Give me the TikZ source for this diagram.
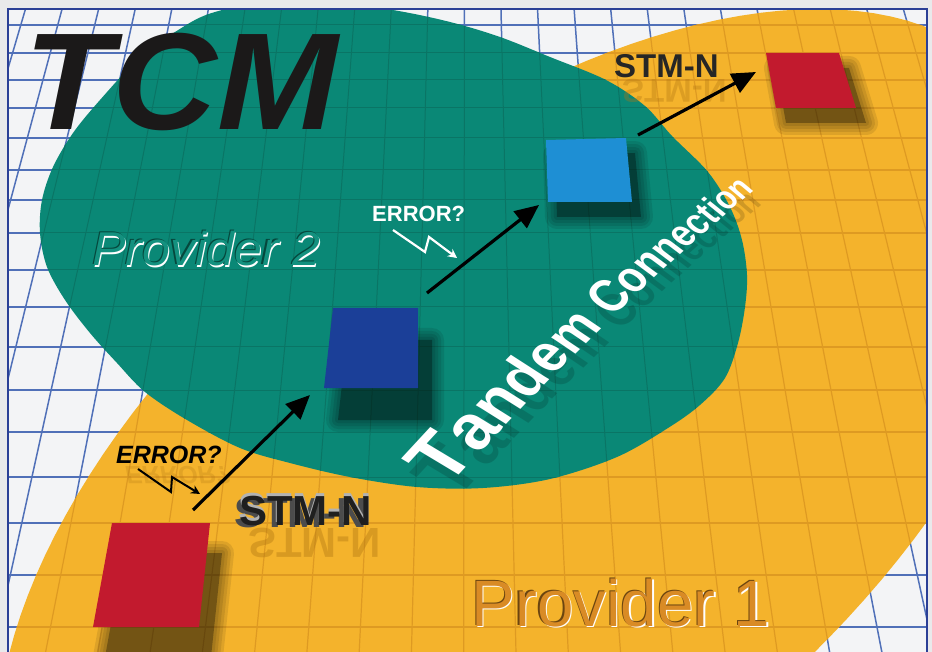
\documentclass[tikz,border=0pt]{standalone}
\usepackage{fontspec}
\usepackage{graphicx}
\setmainfont{Liberation Sans}
\usetikzlibrary{arrows.meta}
\definecolor{paper}{HTML}{E9E9EB}
\definecolor{framec}{HTML}{2B3F96}
\definecolor{gridw}{HTML}{F3F4F6}
\definecolor{gridblue}{HTML}{5070B8}
\definecolor{yel}{HTML}{F4B32C}
\definecolor{yelline}{HTML}{DE9A22}
\definecolor{grn}{HTML}{0A8876}
\definecolor{grnline}{HTML}{0A7565}
\definecolor{redsq}{HTML}{C21A2E}
\definecolor{dbluesq}{HTML}{1B3F98}
\definecolor{lbluesq}{HTML}{1E8FD4}
\definecolor{tcmblack}{HTML}{1B1919}
\definecolor{provtwo}{HTML}{13917F}
\definecolor{provtwodark}{HTML}{05473C}
\definecolor{provone}{HTML}{D98B25}
\definecolor{provonedark}{HTML}{6B4510}
\definecolor{reflc}{HTML}{B07612}
\newcommand{\gridpaths}[1]{%
  \foreach \yy in {25,53,80,108,138,170,200,233,270,307,347,390,432,477,523,575,627}{\draw[#1] (0,\yy) -- (932,\yy);}%
  \foreach \n in {-14,...,12}{%
    \pgfmathsetmacro{\xa}{466+(35+36.6*\n)*0.99333}%
    \pgfmathsetmacro{\xb}{466+(35+36.6*\n)*1.428}%
    \draw[#1] (\xa,0) -- (\xb,652);}%
}
\newcommand{\yelpath}{plot[domain=0:360, samples=145, variable=\t] ({523+623*cos(\t)*0.7756+326*sin(\t)*0.6312}, {476.5-623*cos(\t)*0.6312+326*sin(\t)*0.7756}) -- cycle}
\newcommand{\grnpath}{plot[smooth cycle, tension=0.55] coordinates {(300,-4) (393,10) (450,22) (500,37) (550,57) (606,80) (645,106) (672,136) (708,172) (730,207) (742,240) (747,275) (745,307) (738,343) (725,378) (700,405) (668,428) (617,457) (550,479) (483,488) (417,487) (350,477) (290,463) (240,448) (187,420) (145,392) (117,363) (90,333) (65,300) (47,267) (40,233) (42,200) (53,167) (73,133) (100,100) (140,57) (175,32) (215,12)}}
\newcommand{\softshadow}[1]{%
  \foreach \w in {24,18,12,6}{%
    \begin{scope}[transparency group, opacity=0.09]
      \filldraw[black, line width=\w pt, line join=round] #1;
    \end{scope}}%
  \fill[black, opacity=0.3] #1;
}
% one letter of the perspective text: x, y, matrix a b c d, node options, letter
\newcommand{\tlet}[8]{%
  \begin{scope}[shift={(#1,#2)}, cm={#3,#4,#5,#6,(0,0)}]
    \node[tdm, #7] at (0,0) {#8};
  \end{scope}}
% the whole perspective text, shifted by (#1,#2), with node options #3, names prefixed #4
\newcommand{\tandemtext}[4]{%
  \tlet{446.9+#1}{488.4+#2}{4.957}{5.359}{-6.758}{4.060}{#3, name=#4t1}{T}
  \tlet{477.2+#1}{455.7+#2}{4.542}{4.830}{-6.098}{3.752}{#3, name=#4t2}{a}
  \tlet{502.5+#1}{428.8+#2}{4.204}{4.393}{-5.680}{3.577}{#3, name=#4t3}{n}
  \tlet{528.2+#1}{401.9+#2}{3.902}{4.003}{-5.280}{3.402}{#3, name=#4t4}{d}
  \tlet{552.1+#1}{377.4+#2}{3.655}{3.685}{-4.960}{3.271}{#3, name=#4t5}{e}
  \tlet{572.4+#1}{357.0+#2}{3.395}{3.351}{-4.565}{3.090}{#3, name=#4t6}{m}
  \tlet{611.6+#1}{318.4+#2}{3.080}{2.943}{-4.324}{3.050}{#3, name=#4c1}{C}
  \tlet{633.8+#1}{297.2+#2}{2.912}{2.728}{-4.019}{2.899}{#3, name=#4c2}{o}
  \tlet{651.6+#1}{280.5+#2}{2.775}{2.552}{-3.764}{2.785}{#3, name=#4c3}{n}
  \tlet{668.5+#1}{264.9+#2}{2.657}{2.400}{-3.547}{2.682}{#3, name=#4c4}{n}
  \tlet{684.8+#1}{250.2+#2}{2.550}{2.264}{-3.356}{2.584}{#3, name=#4c5}{e}
  \tlet{699.0+#1}{237.6+#2}{2.463}{2.151}{-3.192}{2.512}{#3, name=#4c6}{c}
  \tlet{712.6+#1}{225.7+#2}{2.394}{2.062}{-3.067}{2.448}{#3, name=#4c7}{t}
  \tlet{720.6+#1}{218.8+#2}{2.350}{2.006}{-2.987}{2.410}{#3, name=#4c8}{i}
  \tlet{727.1+#1}{213.3+#2}{2.287}{1.926}{-2.869}{2.356}{#3, name=#4c9}{o}
  \tlet{741.1+#1}{201.5+#2}{2.211}{1.829}{-2.731}{2.292}{#3, name=#4c10}{n}
}
\tikzset{
  bigarrow/.style={line width=3.2pt, draw=black, -{Triangle[length=24pt,width=21pt]}},
  bolt/.style={line width=2.2pt, line join=miter, -{Stealth[length=9pt,width=9pt]}},
  lbl/.style={inner sep=0pt, anchor=base west},
  tdm/.style={inner sep=0pt, anchor=base west, transform shape, font=\fontsize{10}{10}\selectfont\bfseries}
}
\begin{document}
\begin{tikzpicture}[x=1pt,y=-1pt]
\useasboundingbox (0,0) rectangle (932,652);
\fill[paper] (0,0) rectangle (932,652);
\begin{scope}
  \clip (8,9) rectangle (927,652);
  \fill[gridw] (0,0) rectangle (932,652);
  \gridpaths{gridblue, line width=1.5pt}
  % Provider 1 (yellow)
  \fill[yel] \yelpath;
  \begin{scope}
    \clip \yelpath;
    \gridpaths{yelline, line width=1.2pt}
  \end{scope}
  % Provider 2 (green)
  \fill[grn] \grnpath;
  \begin{scope}
    \clip \grnpath;
    \gridpaths{grnline, line width=1pt}
  \end{scope}
  % reflections
  \node[lbl, font=\fontsize{42}{42}\selectfont\bfseries, text=reflc, opacity=0.4] (stmrefa) at (248,528) {\scalebox{1}[-1]{STM-N}};
  \node[lbl, font=\fontsize{33}{33}\selectfont\bfseries, text=reflc, opacity=0.35] (stmrefb) at (622,80) {\scalebox{1}[-1]{STM-N}};
  \node[lbl, font=\fontsize{25}{25}\selectfont\bfseries\itshape, text=reflc, opacity=0.25] (errref) at (125,466) {\scalebox{1}[-1]{ERROR?}};
  % shadow of the Tandem Connection text
  \tandemtext{8}{14}{text=black, opacity=0.15}{sh}
  % square shadows
  \softshadow{(124,553) -- (222,553) -- (211,657) -- (105,657) -- cycle}
  \softshadow{(347,340) -- (432,340) -- (432,420) -- (338,420) -- cycle}
  \softshadow{(555,155) -- (635,153) -- (641,217) -- (557,217) -- cycle}
  \softshadow{(776,68) -- (849,68) -- (866,123) -- (786,123) -- cycle}
  % squares
  \fill[redsq] (112,523) -- (210,523) -- (199,627) -- (93,627) -- cycle;
  \fill[dbluesq] (333,308) -- (418,308) -- (418,388) -- (324,388) -- cycle;
  \fill[lbluesq] (546,140) -- (626,138) -- (632,202) -- (548,202) -- cycle;
  \fill[redsq] (766,53) -- (839,53) -- (856,108) -- (776,108) -- cycle;
  % arrows
  \coordinate (a1s) at (193,510);
  \coordinate (a1e) at (310,395);
  \coordinate (a2s) at (427,293);
  \coordinate (a2e) at (539,205);
  \coordinate (a3s) at (638,135);
  \coordinate (a3e) at (756,72);
  \draw[bigarrow] (a1s) -- (a1e);
  \draw[bigarrow] (a2s) -- (a2e);
  \draw[bigarrow] (a3s) -- (a3e);
  % error bolts
  \coordinate (b1a) at (138,469);
  \coordinate (b1b) at (171,492);
  \coordinate (b1c) at (172,477);
  \coordinate (b1d) at (200,494);
  \draw[bolt, black, line width=2pt] (b1a) -- (b1b) -- (b1c) -- (b1d);
  \coordinate (b2a) at (393,230);
  \coordinate (b2b) at (425,252);
  \coordinate (b2c) at (429,237);
  \coordinate (b2d) at (457,258);
  \draw[bolt, white] (b2a) -- (b2b) -- (b2c) -- (b2d);
  % texts
  \node[lbl, font=\fontsize{138}{138}\selectfont\bfseries\itshape, text=tcmblack] (tcm) at (24,130) {\scalebox{1.05}[1]{TCM}};
  \node[lbl, font=\fontsize{47.5}{47.5}\selectfont\itshape, text=white] at (93.2,267.2) {\scalebox{1.055}[1]{Provider 2}};
  \node[lbl, font=\fontsize{47.5}{47.5}\selectfont\itshape, text=provtwodark] at (90.8,264.8) {\scalebox{1.055}[1]{Provider 2}};
  \node[lbl, font=\fontsize{47.5}{47.5}\selectfont\itshape, text=provtwo] (prov2) at (92,266) {\scalebox{1.055}[1]{Provider 2}};
  \node[lbl, font=\fontsize{65.6}{65.6}\selectfont, text=white] at (472.5,627.2) {Provider 1};
  \node[lbl, font=\fontsize{65.6}{65.6}\selectfont, text=provonedark] at (470,625.5) {Provider 1};
  \node[lbl, font=\fontsize{65.6}{65.6}\selectfont, text=provone] (prov1) at (471.2,626) {Provider 1};
  \node[lbl, font=\fontsize{42}{42}\selectfont\bfseries, text=black!70] (stmaghost) at (234,527) {STM-N};
  \node[lbl, font=\fontsize{42}{42}\selectfont\bfseries, text=black!30] (stmahigh) at (238.5,522.5) {STM-N};
  \node[lbl, font=\fontsize{42}{42}\selectfont\bfseries, text=black!88] (stma) at (239,525) {STM-N};
  \node[lbl, font=\fontsize{33}{33}\selectfont\bfseries, text=black!85] (stmb) at (614,78) {STM-N};
  \node[lbl, font=\fontsize{25}{25}\selectfont\bfseries\itshape, text=black] (erra) at (116,463) {ERROR?};
  \node[lbl, font=\fontsize{22}{22}\selectfont\bfseries, text=white] (errb) at (372,222) {ERROR?};
  % Tandem Connection, in perspective
  \tandemtext{0}{0}{text=white}{tc}
\end{scope}
\draw[framec, line width=2pt] (8,9) rectangle (927,700);
\end{tikzpicture}
\end{document}
